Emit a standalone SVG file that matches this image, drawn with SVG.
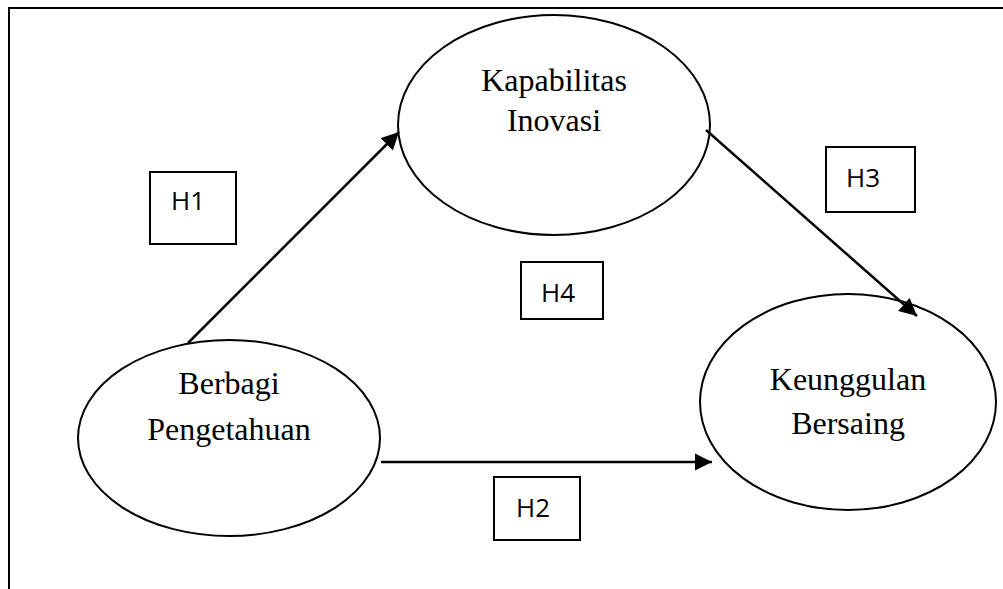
<svg xmlns="http://www.w3.org/2000/svg" width="1003" height="589" viewBox="0 0 1003 589">
<defs>
<style>
.e{fill:#fff;stroke:#000;stroke-width:2}
.b{fill:#fff;stroke:#000;stroke-width:2}
.t{font-family:"Liberation Serif","Times New Roman",serif;font-size:32px;fill:#000;text-anchor:middle}
.h{font-family:"Open Sans","Liberation Sans",Arial,sans-serif;font-size:26px;fill:#000}
.c{stroke:#000;stroke-width:2.5;fill:none;marker-end:url(#ah)}
</style>
<marker id="ah" viewBox="0 0 10 10" refX="10" refY="5" markerWidth="7" markerHeight="7" markerUnits="strokeWidth" orient="auto">
<path d="M0,0 L10,5 L0,10 z" fill="#000"/>
</marker>
</defs>
<rect width="1003" height="589" fill="#fff"/>
<path d="M9,589 V8 H1003" fill="none" stroke="#000" stroke-width="2"/>
<g id="node-kapabilitas">
<ellipse class="e" cx="554" cy="125" rx="156" ry="110"/>
<text class="t" x="554" y="91">Kapabilitas</text>
<text class="t" x="554" y="131">Inovasi</text>
</g>
<g id="node-berbagi">
<ellipse class="e" cx="229" cy="438" rx="151" ry="98"/>
<text class="t" x="229" y="394">Berbagi</text>
<text class="t" x="229" y="440">Pengetahuan</text>
</g>
<g id="node-keunggulan">
<ellipse class="e" cx="848" cy="402" rx="148" ry="108"/>
<text class="t" x="848" y="390">Keunggulan</text>
<text class="t" x="848" y="434">Bersaing</text>
</g>
<g id="h1"><rect class="b" x="150" y="172" width="86" height="72"/><text class="h" x="171" y="210">H1</text></g>
<g id="h3"><rect class="b" x="826" y="147" width="89" height="65"/><text class="h" x="846" y="187">H3</text></g>
<g id="h4"><rect class="b" x="521" y="262" width="82" height="57"/><text class="h" x="541" y="302">H4</text></g>
<g id="h2"><rect class="b" x="494" y="477" width="86" height="63"/><text class="h" x="516" y="517">H2</text></g>
<g id="connectors">
<line class="c" x1="188" y1="343" x2="399" y2="132"/>
<line class="c" x1="706" y1="130" x2="917" y2="316"/>
<line class="c" x1="381" y1="462" x2="712" y2="462"/>
</g>
</svg>
